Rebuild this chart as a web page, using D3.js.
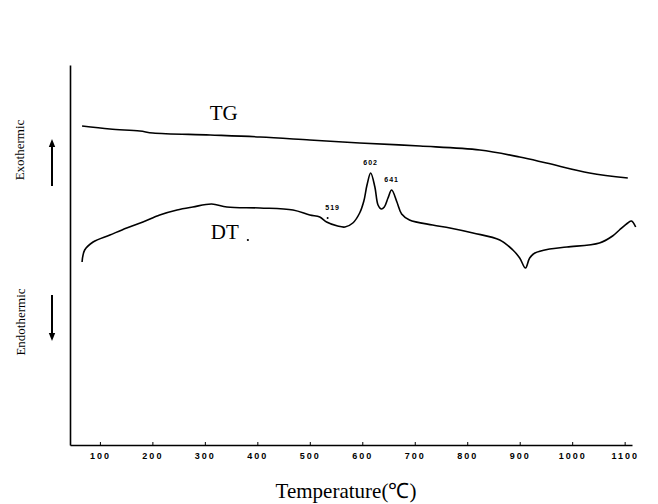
<!DOCTYPE html>
<html>
<head>
<meta charset="utf-8">
<script src="https://cdn.jsdelivr.net/npm/d3@7/dist/d3.min.js"></script>
<style>
  html, body { margin: 0; padding: 0; background: #fff; }
  svg { display: block; }
</style>
</head>
<body>
<svg id="chart" width="658" height="504"></svg>
<script>
// ---- data (temperature in °C, signal in arbitrary units) ----
const tickValues = [100, 200, 300, 400, 500, 600, 700, 800, 900, 1000, 1100];

const tgTemp  = [66, 119, 176, 201, 310, 405, 500, 595, 710, 824, 900, 951, 1033, 1106];
const tgValue = [319, 316, 314, 312, 310, 308, 305, 302, 299, 295, 288, 282, 272, 267];

const dtTemp  = [66, 71, 87, 119, 151, 182, 214, 247, 277, 313, 342, 405, 468, 500, 519, 532, 553, 567, 582,
                 595, 603, 609, 616, 624, 630, 636, 642, 649, 656, 666, 675, 690, 734, 767, 811, 862, 887, 900,
                 911, 919, 929, 957, 990, 1052, 1077, 1090, 1106, 1113, 1121];
const dtValue = [183, 195, 203, 210, 217, 223, 230, 235, 238, 241, 238, 237, 235, 230, 228, 223, 219, 218, 222,
                 232, 244, 260, 272, 258, 240, 236, 238, 247, 255, 243, 231, 225, 220, 217, 212, 205, 195, 187,
                 177, 187, 192, 196, 198, 202, 209, 215, 222, 224, 218];

const peakLabels = ["519", "602", "641"];
const peakTemp   = [534, 616, 656];
const peakValue  = [228, 272, 255];

const seriesLabels = ["TG", "DT"];

// ---- layout ----
const svg = d3.select("#chart");
const x = d3.scaleLinear().domain([43, 1114]).range([70, 632]);
const y = d3.scaleLinear().domain([0, 380]).range([445, 65]);
const serif = "'Liberation Serif', 'Times New Roman', serif";

// x axis
const xAxis = d3.axisBottom(x)
  .tickValues(tickValues)
  .tickSizeInner(-3)
  .tickSizeOuter(0)
  .tickPadding(8)
  .tickFormat(d3.format("d"));
const gx = svg.append("g").attr("transform", "translate(0,445)").call(xAxis);
gx.select(".domain").attr("stroke", "#000").attr("stroke-width", 1.6);
gx.selectAll(".tick line").attr("stroke", "#000").attr("stroke-width", 1);
gx.selectAll(".tick text")
  .attr("font-family", "'Liberation Sans', Arial, sans-serif")
  .attr("font-weight", "bold")
  .attr("font-size", 9)
  .attr("letter-spacing", "2px")
  .attr("fill", "#000");

// y axis (no tick labels)
const yAxis = d3.axisLeft(y).tickValues([]).tickSizeOuter(0);
const gy = svg.append("g").attr("transform", "translate(70,0)").call(yAxis);
gy.select(".domain").attr("stroke", "#000").attr("stroke-width", 1.6);

// curves
const line = d3.line()
  .x(d => x(d[0]))
  .y(d => y(d[1]))
  .curve(d3.curveCatmullRom.alpha(0.5));

const tg = tgTemp.map((t, i) => [t, tgValue[i]]);
const dt = dtTemp.map((t, i) => [t, dtValue[i]]);

svg.append("path").datum(tg).attr("d", line)
  .attr("fill", "none").attr("stroke", "#000").attr("stroke-width", 1.6);
svg.append("path").datum(dt).attr("d", line)
  .attr("fill", "none").attr("stroke", "#000").attr("stroke-width", 1.6);

// series labels
svg.append("text").text(seriesLabels[0])
  .attr("x", x(336)).attr("y", y(325))
  .attr("text-anchor", "middle")
  .attr("font-family", serif).attr("font-size", 21).attr("fill", "#000");
svg.append("text").text(seriesLabels[1])
  .attr("x", x(338)).attr("y", y(206))
  .attr("text-anchor", "middle")
  .attr("font-family", serif).attr("font-size", 21).attr("fill", "#000");
svg.append("circle").attr("cx", x(382)).attr("cy", y(205)).attr("r", 1.1).attr("fill", "#000");

// peak annotations
peakLabels.forEach((lab, i) => {
  svg.append("text").text(lab)
    .attr("x", x(peakTemp[i]) + (i === 0 ? 5 : 0))
    .attr("y", y(peakValue[i]) - (i === 0 ? 7 : 8))
    .attr("text-anchor", "middle")
    .attr("font-family", "'Liberation Sans', Arial, sans-serif")
    .attr("font-weight", "bold")
    .attr("font-size", 7)
    .attr("letter-spacing", "1px")
    .attr("fill", "#000");
});
svg.append("circle").attr("cx", x(peakTemp[0])).attr("cy", y(peakValue[0]) + 1).attr("r", 1).attr("fill", "#000");

// y-side labels
svg.append("text").text("Exothermic")
  .attr("transform", "translate(24,150) rotate(-90)")
  .attr("text-anchor", "middle")
  .attr("font-family", serif).attr("font-size", 13).attr("fill", "#000");
svg.append("text").text("Endothermic")
  .attr("transform", "translate(25,322) rotate(-90)")
  .attr("text-anchor", "middle")
  .attr("font-family", serif).attr("font-size", 13).attr("fill", "#000");

// arrows
const defs = svg.append("defs");
defs.append("marker").attr("id", "ah")
  .attr("viewBox", "0 0 10 10").attr("refX", 5).attr("refY", 5)
  .attr("markerWidth", 4).attr("markerHeight", 5).attr("orient", "auto-start-reverse")
  .append("path").attr("d", "M0,1 L10,5 L0,9 Z").attr("fill", "#000");
svg.append("line").attr("x1", 52).attr("y1", 186).attr("x2", 52).attr("y2", 143)
  .attr("stroke", "#000").attr("stroke-width", 2).attr("marker-end", "url(#ah)");
svg.append("line").attr("x1", 52).attr("y1", 295).attr("x2", 52).attr("y2", 337)
  .attr("stroke", "#000").attr("stroke-width", 2).attr("marker-end", "url(#ah)");

// x title
svg.append("text").text("Temperature(℃)")
  .attr("x", 346).attr("y", 498)
  .attr("text-anchor", "middle")
  .attr("font-family", serif).attr("font-size", 21).attr("fill", "#000");
</script>
</body>
</html>
